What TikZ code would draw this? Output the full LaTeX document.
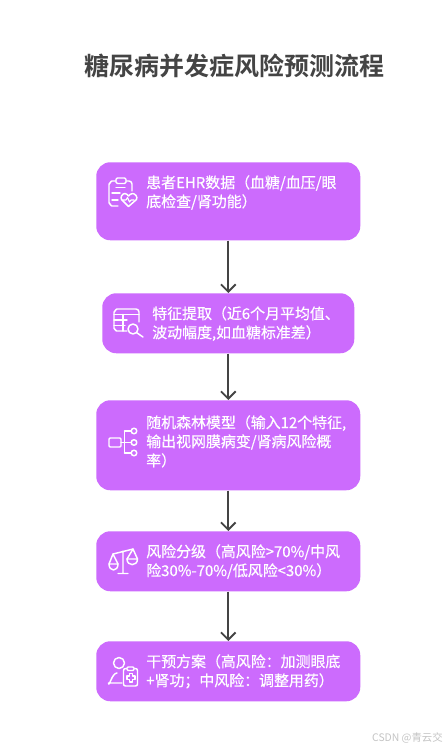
\documentclass[tikz,border=0pt]{standalone}
\usepackage{fontspec}
\setmainfont[FakeBold=0.5]{Noto Sans CJK SC}
\newfontfamily\titlefont{Noto Sans CJK SC Bold}
\newfontfamily\markfont{Noto Sans CJK SC}
\definecolor{boxfill}{HTML}{CC6BFD}
\definecolor{ink}{HTML}{444444}
\definecolor{mark}{HTML}{C4C4C4}
\usetikzlibrary{arrows.meta}
\tikzset{
  flowbox/.style={draw=none,fill=boxfill,rounded corners=10.5pt,inner sep=0pt,anchor=north west},
  boxtext/.style={text=white,inner sep=0pt,anchor=north west,align=left,font=\fontsize{11.2}{14.25}\selectfont},
  link/.style={draw=ink,line width=1.4pt,-{Straight Barb[length=5.5pt,width=11pt,line width=1.4pt]}},
  iconline/.style={draw=white,line width=1.1pt,line cap=round,line join=round,fill=none},
}
\begin{document}
\begin{tikzpicture}[x=0.75pt,y=-0.75pt]
\useasboundingbox (0,0) rectangle (444,750);
\fill[white] (0,0) rectangle (444,750);
\node[inner sep=0pt,text=ink,font=\titlefont\fontsize{18.75}{22}\selectfont] (title) at (234.5,66) {糖尿病并发症风险预测流程};

\node[flowbox,minimum width=198pt,minimum height=58.5pt] (b1) at (96,162) {};
\node[flowbox,minimum width=189pt,minimum height=45pt] (b2) at (102,293) {};
\node[flowbox,minimum width=198pt,minimum height=67.5pt] (b3) at (96,400) {};
\node[flowbox,minimum width=198pt,minimum height=45pt] (b4) at (96,531) {};
\node[flowbox,minimum width=198pt,minimum height=45pt] (b5) at (96,641) {};

\node[boxtext] (t1) at (146,175) {患者EHR数据（血糖/血压/眼\\底检查/肾功能）};
\node[boxtext] (t2) at (152,306) {特征提取（近6个月平均值、\\波动幅度,如血糖标准差）};
\node[boxtext] (t3) at (146,415) {随机森林模型（输入12个特征,\\输出视网膜病变/肾病风险概\\率）};
\node[boxtext] (t4) at (146,544) {风险分级（高风险>70\%/中风\\险30\%-70\%/低风险<30\%）};
\node[boxtext] (t5) at (146,654) {干预方案（高风险：加测眼底\\+肾功；中风险：调整用药）};

\draw[link] (b1.south) -- (b2.north);
\draw[link] (b2.south-|b1.south) -- (b3.north);
\draw[link] (b3.south) -- (b4.north);
\draw[link] (b4.south) -- (b5.north);

% icon 1: clipboard with heart
\draw[iconline] (118,206) -- (112,206) to[out=180,in=90] (109,203) -- (109,184) to[out=-90,in=180] (112,181) -- (116,181);
\draw[iconline] (126,181) -- (129,181) to[out=0,in=90] (132,184) -- (132,191);
\draw[iconline,rounded corners=1pt] (116,178) rectangle (126,183.5);
\draw[iconline] (116,187.5) -- (125,187.5) (112,193) -- (120,193) (112,200) -- (118,200);
\draw[iconline] (128.5,206.5) -- (121.5,199.5) to[out=120,in=180] (125,193.5) to[out=0,in=140] (128.5,196) to[out=40,in=180] (132.5,193.5) to[out=0,in=60] (136.5,199.5) -- cycle;
\draw[iconline,line width=.8pt] (123,200) -- (126,200) -- (127.5,197.5) -- (129.5,202) -- (131,200) -- (134,200);

% icon 2: table with magnifier
\draw[iconline] (127,331) -- (116.5,331) to[out=180,in=90] (114,328.5) -- (114,312) to[out=-90,in=180] (117,309) -- (136,309) to[out=0,in=90] (139,312) -- (139,322);
\draw[iconline] (114,314.5) -- (139,314.5) (114,320) -- (127,320) (114,325.5) -- (125,325.5) (123,314.5) -- (123,331);
\draw[iconline] (133,329) circle[radius=5];
\draw[iconline] (136.7,332.7) -- (143,337);

% icon 3: tree
\draw[iconline,rounded corners=.8pt] (109,438) rectangle (121,447);
\draw[iconline] (121,442.5) -- (131,442.5) (124.5,431) -- (131,431) (124.5,453) -- (131,453) (124.5,431) -- (124.5,453);
\draw[iconline] (134,431) circle[radius=2.8] (134,442.5) circle[radius=2.8] (134,453) circle[radius=2.8];

% icon 4: scales
\draw[iconline] (123,551) -- (123,573) (118,573.5) -- (128,573.5) (113,554) -- (133,549);
\draw[iconline] (113,554) -- (109,564) (113,554) -- (118,564) (133,549) -- (127,559) (133,549) -- (137.5,559);
\draw[iconline] (109,564) -- (118,564) .. controls (118,572) and (109,572) .. (109,564);
\draw[iconline] (127,559) -- (137.5,559) .. controls (137.5,566.5) and (127,566.5) .. (127,559);

% icon 5: person with medical clipboard
\draw[iconline] (119,663) circle[radius=5.5];
\draw[iconline] (122,683) -- (108.5,683) to[out=-85,in=180] (117,673);
\draw[iconline,rounded corners=1.5pt] (123.5,668.5) rectangle (137.5,686);
\draw[iconline,fill=boxfill,rounded corners=.8pt] (127,667) rectangle (134,670.5);
\draw[iconline] (129.3,673.5) -- (132.7,673.5) -- (132.7,676) -- (135,676) -- (135,679.5) -- (132.7,679.5) -- (132.7,682) -- (129.3,682) -- (129.3,679.5) -- (127,679.5) -- (127,676) -- (129.3,676) -- cycle;

\node[inner sep=0pt,anchor=east,text=mark,font=\markfont\fontsize{7.8}{9}\selectfont] (wm) at (443,738) {CSDN @青云交};
\end{tikzpicture}
\end{document}
